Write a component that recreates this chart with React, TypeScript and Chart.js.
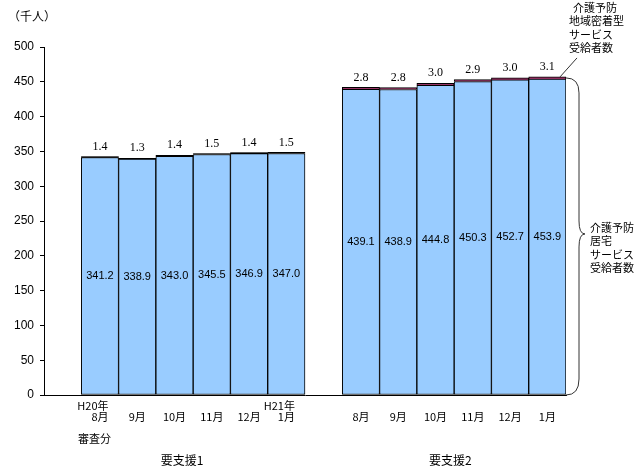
import React, { useEffect, useRef } from "react";
import { Chart, registerables } from "chart.js";

Chart.register(...registerables);

// 14 slots: empty, group 1 (6 months), empty, group 2 (6 months)
const monthLabels = ["", "8月", "9月", "10月", "11月", "12月", "1月", "", "8月", "9月", "10月", "11月", "12月", "1月"];
const yearLabels = ["", "H20年", "", "", "", "", "H21年", "", "", "", "", "", "", ""];
const homeServiceValues = [null, 341.2, 338.9, 343.0, 345.5, 346.9, 347.0, null, 439.1, 438.9, 444.8, 450.3, 452.7, 453.9];
const communityServiceValues = [null, 1.4, 1.3, 1.4, 1.5, 1.4, 1.5, null, 2.8, 2.8, 3.0, 2.9, 3.0, 3.1];
const groupLabels = ["要支援1", "要支援2"];
const yTickMax = 500;
const yTickStep = 50;

const JP = '"Noto Sans CJK JP", "Liberation Sans", sans-serif';

const labelPlugin = {
  id: "customLabels",
  afterDatasetsDraw(chart: any) {
    const ctx = chart.ctx;
    const x = chart.scales.x;
    const y = chart.scales.y;
    const half = (x.getPixelForValue(1) - x.getPixelForValue(0)) / 2;
    ctx.save();
    ctx.fillStyle = "#000";
    ctx.textBaseline = "middle";
    // values
    for (let i = 0; i < homeServiceValues.length; i++) {
      const v = homeServiceValues[i];
      const t = communityServiceValues[i];
      if (v == null || t == null) continue;
      const cx = x.getPixelForValue(i);
      ctx.textAlign = "center";
      ctx.font = '11px "Liberation Sans", sans-serif';
      ctx.fillText(v.toFixed(1), cx, y.getPixelForValue(v / 2));
      ctx.font = '12px "Liberation Serif", serif';
      ctx.fillText(t.toFixed(1), cx, y.getPixelForValue(v + t) - 10);
    }
    // x labels
    const base = y.getPixelForValue(0);
    for (let i = 0; i < monthLabels.length; i++) {
      const cx = x.getPixelForValue(i);
      ctx.font = "11px " + JP;
      ctx.textAlign = "center";
      if (monthLabels[i]) ctx.fillText(monthLabels[i], cx, base + 22);
      if (yearLabels[i]) ctx.fillText(yearLabels[i], cx - 7, base + 11);
    }
    ctx.textAlign = "left";
    ctx.font = "11px " + JP;
    ctx.fillText("審査分", x.getPixelForValue(1) - 22, base + 44);
    ctx.textAlign = "center";
    ctx.font = "12px " + JP;
    ctx.fillText(groupLabels[0], x.getPixelForValue(3.2), base + 65);
    ctx.fillText(groupLabels[1], x.getPixelForValue(10.4), base + 65);
    // unit
    ctx.textAlign = "left";
    ctx.font = "12px " + JP;
    ctx.fillText("（千人）", 8, 16);
    // brace
    const last = homeServiceValues.length - 1;
    const rx = x.getPixelForValue(last) + half;
    const topY = y.getPixelForValue((homeServiceValues[last] as number) + (communityServiceValues[last] as number));
    const bx = rx + 13;
    const midY = (topY + base) / 2 - 2;
    ctx.strokeStyle = "#333";
    ctx.lineWidth = 1;
    ctx.beginPath();
    ctx.moveTo(rx, topY + 1);
    ctx.quadraticCurveTo(bx, topY + 1, bx, topY + 16);
    ctx.lineTo(bx, midY - 13);
    ctx.quadraticCurveTo(bx, midY, bx + 6, midY);
    ctx.quadraticCurveTo(bx, midY, bx, midY + 13);
    ctx.lineTo(bx, base - 16);
    ctx.quadraticCurveTo(bx, base, rx, base);
    ctx.stroke();
    // pointer line to upper note
    ctx.beginPath();
    ctx.moveTo(rx - 6, topY);
    ctx.lineTo(rx + 11, topY - 19);
    ctx.stroke();
    ctx.font = "11px " + JP;
    ctx.textAlign = "left";
    const note1 = ["介護予防", "地域密着型", "サービス", "受給者数"];
    note1.forEach((s, k) => ctx.fillText(s, k === 0 ? 573 : 569, 8 + k * 13.3));
    const note2 = ["介護予防", "居宅", "サービス", "受給者数"];
    note2.forEach((s, k) => ctx.fillText(s, bx + 11, midY - 6 + k * 13.3));
    ctx.restore();
  },
};

export default function App() {
  const ref = useRef<HTMLCanvasElement | null>(null);
  useEffect(() => {
    if (!ref.current) return;
    const topColors = communityServiceValues.map((_, i) => (i < 7 ? "#000000" : "#993366"));
    const chart = new Chart(ref.current, {
      type: "bar",
      data: {
        labels: monthLabels,
        datasets: [
          {
            label: "介護予防居宅サービス受給者数",
            data: homeServiceValues as any,
            backgroundColor: "#99CCFF",
            borderColor: "#000000",
            borderWidth: 1,
            borderSkipped: false,
            barPercentage: 1,
            categoryPercentage: 1,
          },
          {
            label: "介護予防地域密着型サービス受給者数",
            data: communityServiceValues as any,
            backgroundColor: topColors,
            borderColor: "#000000",
            borderWidth: { top: 1, left: 1, right: 1, bottom: 0 },
            borderSkipped: false,
            barPercentage: 1,
            categoryPercentage: 1,
          },
        ],
      },
      options: {
        responsive: false,
        animation: false,
        devicePixelRatio: 1,
        layout: { padding: { left: 0, right: 72, top: 47, bottom: 73 } },
        plugins: { legend: { display: false }, tooltip: { enabled: false } },
        scales: {
          x: {
            stacked: true,
            ticks: { display: false },
            grid: { display: false },
            border: { display: true, color: "#000", width: 1 },
            afterFit: (s: any) => {
              s.height = 0;
            },
          },
          y: {
            stacked: true,
            min: 0,
            max: yTickMax,
            ticks: {
              stepSize: yTickStep,
              color: "#000",
              padding: 6,
              font: { size: 12, family: '"Liberation Sans", sans-serif' },
            },
            grid: { drawOnChartArea: false, drawTicks: true, tickLength: 4, color: "#000" },
            border: { display: true, color: "#000", width: 1 },
            afterFit: (s: any) => {
              s.width = 44;
            },
          },
        },
      },
      plugins: [labelPlugin],
    });
    return () => chart.destroy();
  }, []);
  return (
    <div style={{ position: "absolute", left: 0, top: 0, width: 638, height: 468, background: "#fff" }}>
      <canvas ref={ref} width={638} height={468} style={{ width: 638, height: 468 }} />
    </div>
  );
}
